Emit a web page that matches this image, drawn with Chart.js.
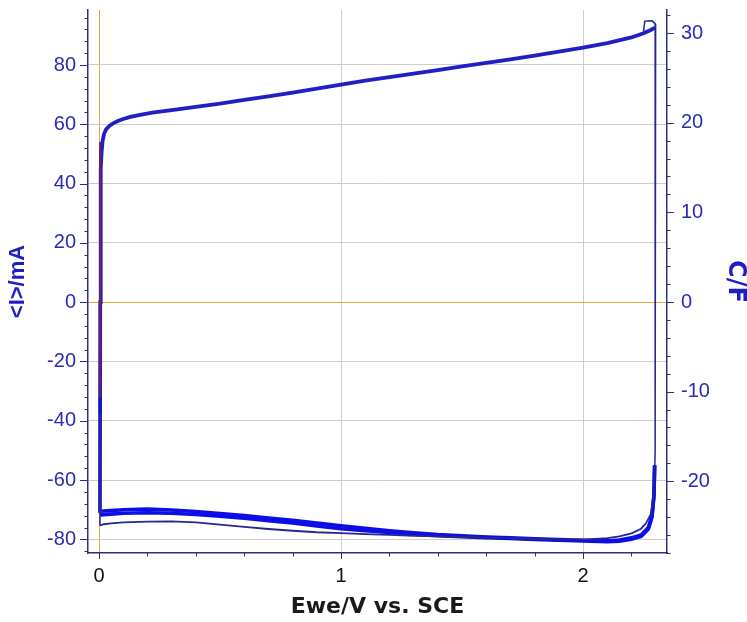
<!DOCTYPE html>
<html><head><meta charset="utf-8">
<script src="https://cdn.jsdelivr.net/npm/chart.js@4.4.1/dist/chart.umd.min.js"></script>
<style>html,body{margin:0;padding:0;background:#fff;}#wrap{width:747px;height:622px;}</style>
</head><body><div id="wrap"><canvas id="c" width="747" height="622"></canvas></div>
<script>
// ---- tick labels ----
const xTicks = [0, 1, 2];
const yTicks = [-80, -60, -40, -20, 0, 20, 40, 60, 80];
const y2Ticks = [-20, -10, 0, 10, 20, 30];

// ---- forward sweep (cycles overlapping, upper branch) ----
const fwdE = [0.004, 0.005, 0.006, 0.008, 0.011, 0.015, 0.021, 0.03, 0.045, 0.06, 0.08, 0.1, 0.13, 0.17, 0.22, 0.3, 0.4, 0.5, 0.6, 0.7, 0.8, 0.9, 1.0, 1.1, 1.2, 1.3, 1.4, 1.5, 1.6, 1.7, 1.8, 1.9, 2.0, 2.1, 2.2, 2.25, 2.28, 2.298];
const fwdI = [-71, 0, 33, 45, 51, 54.5, 56.8, 58.4, 59.6, 60.4, 61.2, 61.8, 62.5, 63.2, 63.9, 64.8, 65.9, 67.0, 68.2, 69.4, 70.7, 72.0, 73.4, 74.7, 75.9, 77.1, 78.3, 79.5, 80.7, 81.9, 83.2, 84.5, 85.9, 87.4, 89.3, 90.7, 91.8, 92.6];

// ---- reverse sweep, later cycles (thick band) ----
const revE  = [2.296, 2.293, 2.285, 2.27, 2.24, 2.2, 2.15, 2.1, 2.0, 1.9, 1.8, 1.7, 1.6, 1.5, 1.4, 1.3, 1.2, 1.1, 1.0, 0.9, 0.8, 0.7, 0.6, 0.5, 0.4, 0.3, 0.2, 0.1, 0.05, 0.004];
const revIa = [-55, -65, -72, -76, -78.5, -79.5, -80.2, -80.5, -80.3, -80.1, -79.8, -79.5, -79.2, -78.8, -78.4, -77.8, -77.1, -76.3, -75.4, -74.5, -73.6, -72.8, -72.0, -71.3, -70.6, -70.1, -69.8, -70.0, -70.3, -70.5];
const revIb = [-55, -65.5, -72.5, -76.5, -79.0, -80.0, -80.6, -80.8, -80.5, -80.3, -80.0, -79.7, -79.4, -79.1, -78.8, -78.3, -77.7, -77.1, -76.4, -75.5, -74.5, -73.7, -72.9, -72.2, -71.6, -71.2, -71.0, -71.2, -71.5, -71.8];

// ---- reverse sweep, first cycle (thin) ----
const rev1E = [2.296, 2.29, 2.28, 2.26, 2.24, 2.2, 2.15, 2.1, 2.0, 1.9, 1.8, 1.7, 1.6, 1.5, 1.4, 1.3, 1.2, 1.1, 1.0, 0.9, 0.8, 0.7, 0.6, 0.5, 0.4, 0.3, 0.2, 0.1, 0.05, 0.02, 0.004];
const rev1I = [-58, -66, -71.5, -74.6, -76.4, -78.0, -79.0, -79.6, -80.1, -80.0, -79.8, -79.6, -79.4, -79.2, -79.0, -78.8, -78.5, -78.2, -77.9, -77.6, -77.1, -76.5, -75.8, -75.0, -74.3, -73.9, -74.0, -74.3, -74.6, -74.9, -75.3];

// ---- vertical switching edges & small features ----
const rightEdgeE = [2.300, 2.298, 2.296];
const rightEdgeI = [93.8, -50, -58];
const hookE = [2.25, 2.255, 2.285, 2.300];
const hookI = [91.2, 94.8, 94.9, 93.8];
const leftEdgeE = [0.004, 0.004];
const leftEdgeI = [-75.3, 54];
const startE = [0.0045, 0.0045];
const startI = [-32, 54];
const blipE = [0.005, 0.005];
const blipI = [-32, -37.5];

const pts = (E, I) => E.map((e, i) => ({x: e, y: I[i]}));

const AXIS = '#2e2e7e';
const GRID = '#cdcdcd';
const ORANGE = '#e6a93a';
const BLUE_LBL = '#2a2ab6';
const BLUE_T = '#1e1ec8';

const minorTicks = {
  id: 'minorTicks',
  afterDraw(chart) {
    const {ctx, chartArea: a} = chart;
    const sx = chart.scales.x, sy = chart.scales.y, sy2 = chart.scales.y2;
    ctx.save();
    ctx.strokeStyle = AXIS;
    ctx.lineWidth = 1;
    ctx.beginPath();
    for (let v = -84; v <= 98; v += 4) {
      const p = Math.round(sy.getPixelForValue(v)) + 0.5;
      const len = (v % 20 === 0) ? 8 : 3.5;
      ctx.moveTo(a.left - len, p); ctx.lineTo(a.left, p);
    }
    for (let v = -28; v <= 32; v += 2) {
      const p = Math.round(sy2.getPixelForValue(v)) + 0.5;
      const len = (v % 10 === 0) ? 7 : 3.5;
      ctx.moveTo(a.right, p); ctx.lineTo(a.right + len, p);
    }
    for (let k = 0; k <= 11; k++) {
      const v = k * 0.2;
      const p = Math.round(sx.getPixelForValue(v)) + 0.5;
      const len = (k % 5 === 0) ? 6 : 3.5;
      ctx.moveTo(p, a.bottom); ctx.lineTo(p, a.bottom + len);
    }
    ctx.stroke();
    ctx.restore();
  }
};

const ds = (label, E, I, color, width, axis) => ({
  label, data: pts(E, I), showLine: true, borderColor: color, backgroundColor: color,
  borderWidth: width, pointRadius: 0, fill: false, tension: 0, yAxisID: axis || 'y'
});

const noPadV = (w) => s => { s.width = w; s.paddingTop = 0; s.paddingBottom = 0; };

new Chart(document.getElementById('c'), {
  type: 'scatter',
  data: {
    datasets: [
      ds('start', startE, startI, '#8a1f3c', 1.6),
      ds('blip', blipE, blipI, '#1515d0', 3),
      ds('hook', hookE, hookI, '#26268f', 1.5),
      ds('rightEdge', rightEdgeE, rightEdgeI, '#26268f', 1.5),
      ds('leftEdge', leftEdgeE, leftEdgeI, '#26268f', 1.5),
      ds('forward', fwdE, fwdI, '#1f1fc4', 3.8),
      ds('rev1', rev1E, rev1I, '#26268f', 1.8),
      ds('revA', revE, revIa, '#0d0de6', 3.6),
      ds('revB', revE, revIb, '#0d0de6', 3.6)
    ]
  },
  options: {
    responsive: false,
    devicePixelRatio: 1,
    animation: false,
    layout: {padding: {top: 10, left: 0, right: 0, bottom: 0}},
    plugins: {legend: {display: false}, tooltip: {enabled: false}},
    scales: {
      x: {
        type: 'linear', min: -0.0455, max: 2.347,
        afterBuildTicks: s => { s.ticks = xTicks.map(v => ({value: v})); },
        afterFit: s => { s.height = 69; s.paddingLeft = 0; s.paddingRight = 0; },
        ticks: {color: '#111', font: {family: 'Liberation Sans', size: 20}, padding: 11},
        grid: {color: c => (c.tick && c.tick.value === 0) ? ORANGE : GRID, lineWidth: 1, drawTicks: false},
        border: {display: true, color: AXIS, width: 1.5},
        title: {display: true, text: 'Ewe/V vs. SCE', color: '#1a1a1a',
                font: {family: 'DejaVu Sans', weight: 'bold', size: 22}, padding: {top: 0, bottom: 2}}
      },
      y: {
        type: 'linear', position: 'left', min: -84.6, max: 98.55,
        afterBuildTicks: s => { s.ticks = yTicks.map(v => ({value: v})); },
        afterFit: noPadV(88),
        ticks: {color: BLUE_LBL, font: {family: 'Liberation Sans', size: 20}, padding: 12},
        grid: {color: c => (c.tick && c.tick.value === 0) ? ORANGE : GRID, lineWidth: 1, drawTicks: false},
        border: {display: true, color: AXIS, width: 1.5},
        title: {display: true, text: '<I>/mA', color: BLUE_T,
                font: {family: 'Liberation Sans', weight: 'bold', size: 22}, padding: {top: 5, bottom: 0}}
      },
      y2: {
        type: 'linear', position: 'right', min: -28.0, max: 32.57,
        afterBuildTicks: s => { s.ticks = y2Ticks.map(v => ({value: v})); },
        afterFit: noPadV(80),
        ticks: {color: BLUE_LBL, font: {family: 'Liberation Sans', size: 20}, padding: 14},
        grid: {drawOnChartArea: false, drawTicks: false},
        border: {display: true, color: AXIS, width: 1.5},
        title: {display: true, text: 'C/F', color: BLUE_T,
                font: {family: 'DejaVu Sans', weight: 'bold', size: 24, lineHeight: 1}, padding: {top: 0, bottom: 0}}
      }
    }
  },
  plugins: [minorTicks]
});
</script></body></html>
